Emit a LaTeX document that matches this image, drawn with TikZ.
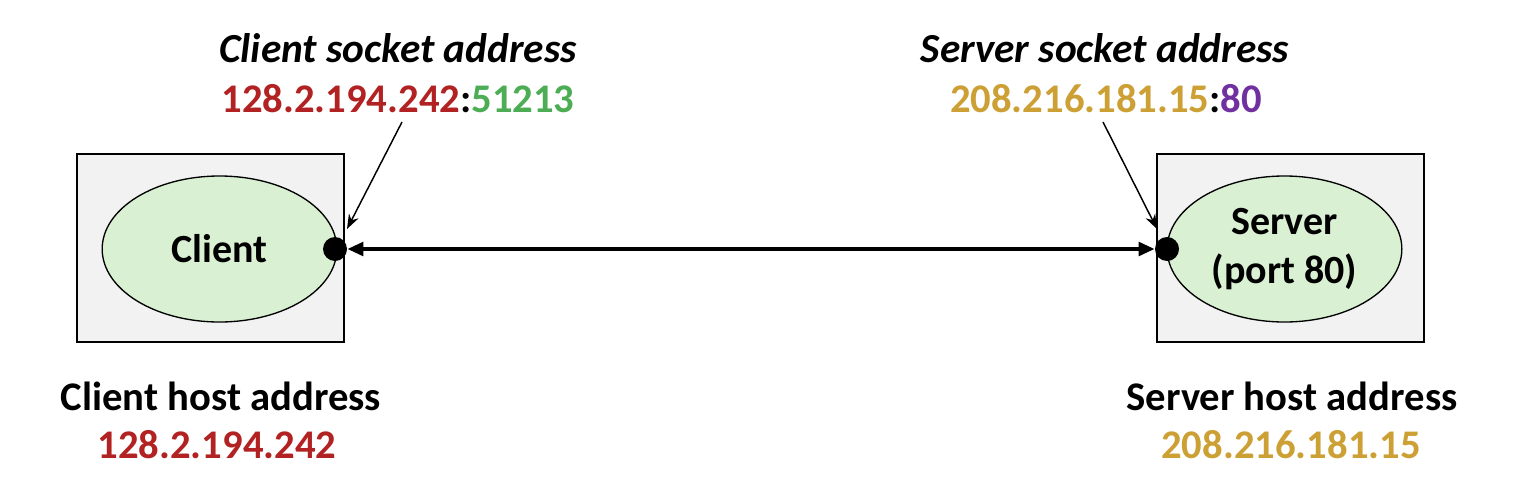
\documentclass[tikz,border=0pt]{standalone}
\usepackage{fontspec}
\setmainfont{Carlito}
\usetikzlibrary{arrows.meta,shapes.geometric}
\definecolor{ipred}{RGB}{178,34,34}
\definecolor{portgreen}{RGB}{76,173,84}
\definecolor{ipgold}{RGB}{204,160,52}
\definecolor{portpurple}{RGB}{112,48,160}
\definecolor{hostfill}{RGB}{242,242,242}
\definecolor{procfill}{RGB}{217,240,211}
\begin{document}
\begin{tikzpicture}[x=0.75pt,y=-0.75pt,
  host/.style={draw=black,line width=1.2pt,fill=hostfill,minimum width=200.25pt,minimum height=141pt,inner sep=0pt},
  proc/.style={ellipse,draw=black,line width=1pt,fill=procfill,minimum width=176pt,minimum height=109.5pt,inner sep=0pt,font=\fontsize{30}{37}\selectfont\bfseries,align=center},
  lbl/.style={font=\fontsize{30.5}{36}\selectfont\bfseries,inner sep=0pt,anchor=base},
  ilbl/.style={lbl,font=\fontsize{31}{36}\selectfont\bfseries\itshape},
  sock/.style={circle,fill=black,minimum size=18pt,inner sep=0pt},
  ptr/.style={-{Stealth[length=11pt,width=8pt]},line width=1.1pt},
  conn/.style={{Triangle[length=12pt,width=10pt]}-{Triangle[length=12pt,width=10pt]},line width=3.2pt}]
\useasboundingbox (0,0) rectangle (1520,500);
% hosts
\node[host] (chost) at (210.5,248) {};
\node[host] (shost) at (1290.5,248) {};
\node[proc] (client) at (219.5,249) {Client};
\node[proc] (server) at (1284.5,249) {Server\\(port 80)};
\node[sock] (cdot) at (335,249) {};
\node[sock] (sdot) at (1167,249) {};
% labels
\node[ilbl] (csocktitle) at (398,62) {Client socket address};
\node[lbl] (csockaddr) at (398,112) {\textcolor{ipred}{128.2.194.242}:\textcolor{portgreen}{51213}};
\node[ilbl] (ssocktitle) at (1105,62) {Server socket address};
\node[lbl] (ssockaddr) at (1106,112) {\textcolor{ipgold}{208.216.181.15}:\textcolor{portpurple}{80}};
\node[lbl] (chosttitle) at (221,410) {Client host address};
\node[lbl] (chostaddr) at (217,458) {\textcolor{ipred}{128.2.194.242}};
\node[lbl] (shosttitle) at (1292,410) {Server host address};
\node[lbl] (shostaddr) at (1291,458) {\textcolor{ipgold}{208.216.181.15}};
% connectors
\coordinate (ctail) at (402,122);
\coordinate (stail) at (1103,122);
\draw[ptr] (ctail) -- (347,229);
\draw[ptr] (stail) -- (1157,229);
\draw[conn] (cdot.east) -- (sdot.west);
\end{tikzpicture}
\end{document}
